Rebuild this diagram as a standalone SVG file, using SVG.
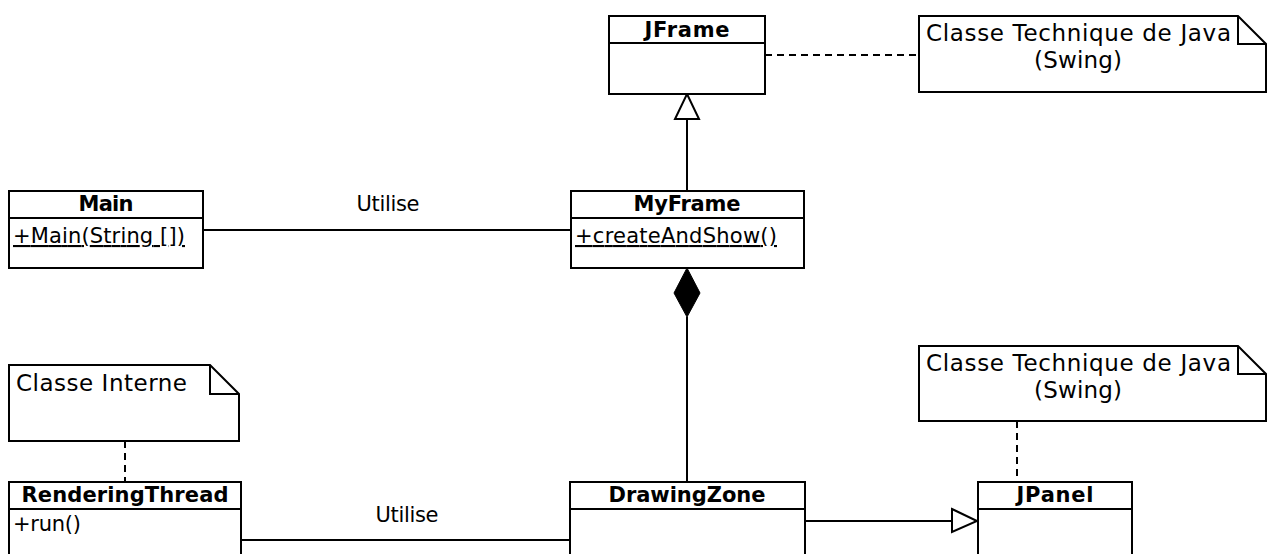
<svg xmlns="http://www.w3.org/2000/svg" width="1267" height="554" viewBox="0 0 1267 554">
<style>
  .box { fill: #fff; stroke: #000; stroke-width: 2; }
  .ln { fill: none; stroke: #000; stroke-width: 2; }
  .dash { fill: none; stroke: #000; stroke-width: 2; stroke-dasharray: 7 5; }
  .title { font-family: "DejaVu Sans", sans-serif; font-size: 21px; font-weight: bold; text-anchor: middle; fill: #000; }
  .op { font-family: "DejaVu Sans", sans-serif; font-size: 21px; fill: #000; }
  .static { text-decoration: underline; }
  .note { font-family: "DejaVu Sans", sans-serif; font-size: 23px; fill: #000; }
  .lbl { font-family: "DejaVu Sans", sans-serif; font-size: 21px; fill: #000; text-anchor: middle; }
</style>
<rect width="1267" height="554" fill="#fff"/>

<g id="connectors">
  <line class="dash" x1="765" y1="55" x2="919" y2="55"/>
  <line class="ln" x1="687" y1="119" x2="687" y2="191"/>
  <polygon class="box" points="687,94 699,119 675,119"/>
  <line class="ln" x1="203" y1="230" x2="571" y2="230"/>
  <text class="lbl" x="388" y="211" textLength="63">Utilise</text>
  <line class="ln" x1="687" y1="317" x2="687" y2="482"/>
  <polygon points="687,268 700,293 687,317 674,293" fill="#000" stroke="#000" stroke-width="1"/>
  <line class="dash" x1="125" y1="441" x2="125" y2="482"/>
  <line class="ln" x1="241" y1="540" x2="570" y2="540"/>
  <text class="lbl" x="407" y="522" textLength="63">Utilise</text>
  <line class="ln" x1="805" y1="521" x2="952" y2="521"/>
  <polygon class="box" points="952,509 977,521 952,532"/>
  <line class="dash" x1="1017" y1="421" x2="1017" y2="482"/>
</g>

<g id="JFrame">
  <rect class="box" x="609" y="16" width="156" height="78"/>
  <line class="ln" x1="609" y1="43" x2="765" y2="43"/>
  <text class="title" x="687" y="37" textLength="85">JFrame</text>
</g>

<g id="note-swing-1">
  <polygon class="box" points="919,16 1238,16 1266,44 1266,92 919,92"/>
  <polyline class="ln" points="1238,16 1238,44 1266,44"/>
  <text class="note" x="926" y="41" textLength="305">Classe Technique de Java</text>
  <text class="note" x="1078" y="68" text-anchor="middle" textLength="88">(Swing)</text>
</g>

<g id="Main">
  <rect class="box" x="9" y="191" width="194" height="77"/>
  <line class="ln" x1="9" y1="218" x2="203" y2="218"/>
  <text class="title" x="106" y="211" textLength="55">Main</text>
  <text class="op static" x="13" y="243" textLength="172">+Main(String [])</text>
</g>

<g id="MyFrame">
  <rect class="box" x="571" y="191" width="233" height="77"/>
  <line class="ln" x1="571" y1="218" x2="804" y2="218"/>
  <text class="title" x="687" y="211" textLength="107">MyFrame</text>
  <text class="op static" x="575" y="243" textLength="202">+createAndShow()</text>
</g>

<g id="note-interne">
  <polygon class="box" points="9,365 210,365 239,394 239,441 9,441"/>
  <polyline class="ln" points="210,365 210,394 239,394"/>
  <text class="note" x="16" y="391" textLength="171">Classe Interne</text>
</g>

<g id="note-swing-2">
  <polygon class="box" points="919,346 1238,346 1266,374 1266,421 919,421"/>
  <polyline class="ln" points="1238,346 1238,374 1266,374"/>
  <text class="note" x="926" y="371" textLength="305">Classe Technique de Java</text>
  <text class="note" x="1078" y="398" text-anchor="middle" textLength="88">(Swing)</text>
</g>

<g id="RenderingThread">
  <rect class="box" x="9" y="482" width="232" height="80"/>
  <line class="ln" x1="9" y1="509" x2="241" y2="509"/>
  <text class="title" x="125" y="502" textLength="207">RenderingThread</text>
  <text class="op" x="13" y="531" textLength="68">+run()</text>
</g>

<g id="DrawingZone">
  <rect class="box" x="570" y="482" width="235" height="80"/>
  <line class="ln" x1="570" y1="509" x2="805" y2="509"/>
  <text class="title" x="687" y="502" textLength="157">DrawingZone</text>
</g>

<g id="JPanel">
  <rect class="box" x="978" y="482" width="154" height="80"/>
  <line class="ln" x1="978" y1="509" x2="1132" y2="509"/>
  <text class="title" x="1055" y="502" textLength="77">JPanel</text>
</g>
</svg>
